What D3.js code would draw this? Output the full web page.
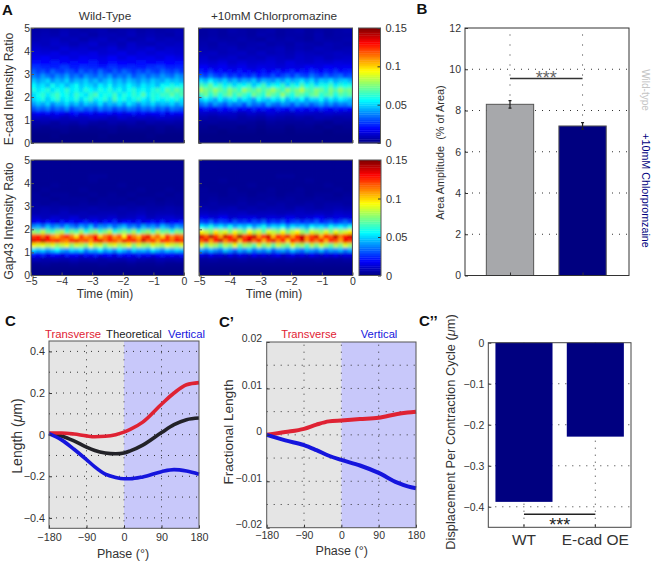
<!DOCTYPE html>
<html><head><meta charset="utf-8">
<script src="https://cdn.jsdelivr.net/npm/d3@7/dist/d3.min.js"></script>
<style>html,body{margin:0;padding:0;background:#fff}svg{display:block}text{font-family:"Liberation Sans",Arial,sans-serif;fill:#333}</style>
</head><body><svg id="c" width="652" height="563"></svg>
<script>
// Heat maps: rows run from ratio 5 (top) to 0 (bottom), values in thousandths. Each row holds its own bins across time.
const wtEcad=[
[6,7,6,8,7,6,7,8,6,7,8,6,7,6,7,8],
[7,8,7,9,7,8,6,8,8,7,9,7,8,7,6,8],
[8,9,10,8,9,7,9,10,8,9,7,8,10,8,9,8],
[10,9,11,10,8,10,12,9,10,8,11,9,8,10,9,10],
[12,11,10,13,11,12,10,11,13,10,12,11,13,10,12,11],
[14,13,15,12,14,13,15,12,13,15,12,14,12,14,13,12],
[16,18,15,17,14,17,16,15,18,14,17,15,16,14,17,15],
[21,19,22,18,20,19,22,17,20,19,18,21,18,20,19,20],
[26,24,23,27,22,25,24,22,26,23,24,22,25,27,23,24],
[33,28,31,26,34,29,27,32,30,25,33,28,31,27,35,29,26,32,28,34,30,26,31,28,33,29,27,34,30,28,32,27],
[38,34,41,36,32,39,35,42,33,37,31,40,36,33,39,35,41,32,37,34,40,31,36,39,33,38,35,41,37,34,42,38],
[48,42,46,51,41,47,43,50,40,46,44,49,42,47,39,45,50,43,47,41,48,44,40,46,42,49,45,43,50,46,48,44],
[56,49,53,47,58,50,54,46,52,57,48,53,50,45,55,49,57,47,52,48,56,50,46,54,49,53,47,57,55,60,54,58],
[60,53,57,62,52,59,55,63,54,58,51,61,56,52,60,55,62,53,59,50,57,62,54,58,52,60,64,58,70,64,72,66],
[51,58,63,54,61,66,56,60,53,64,58,52,62,67,55,60,57,65,53,61,56,63,58,68,54,62,59,65,63,70,62,67],
[50,55,60,49,57,63,52,58,54,61,50,59,64,53,57,62,51,66,56,60,52,58,63,55,50,61,57,54,60,56,62,53],
[41,47,43,50,39,46,44,51,42,48,40,49,45,43,52,41,47,44,50,42,53,46,40,48,44,51,43,47,45,50,42,48],
[31,36,33,38,30,35,32,39,29,34,37,31,35,30,38,33,36,29,34,31,37,35,30,36,33,38,31,35,29,37,34,32],
[15,19,17,21,16,20,18,15,19,22,16,18,20,15,19,17,21,16,19,15,18,22,17,20,16,19,18,23,15,20,17,19],
[11,10,12,9,11,10,12,11,9,12,10,11,10,12,11,10],
[6,7,5,7,6,8,6,5,7,6,7,5,7,6,7,6],
[4,3,4,4,3,4,3,4,4,3,4,4,3,4,3,4],
[2,2,2,3,2,2,2,2,3,2,2,2,2,3,2,2],
[1,1,2,1,1,1,1,2,1,1,1,1,2,1,1,1],
[1,1,1,1,1,1,1,1,1,1,1,1,1,1,1,1]];
const cpEcad=[
[5,6,5,7,6,5,6,7,5,6,7,5,6,5,6,7],
[5,6,5,6,6,5,7,6,5,6,6,5,7,5,6,6],
[6,7,6,6,7,6,5,7,6,7,6,5,7,6,6,7],
[7,6,8,7,6,7,8,6,7,6,8,7,6,8,7,6],
[8,7,8,9,7,8,7,8,9,7,8,7,9,8,7,8],
[9,10,8,9,10,8,10,8,9,8,10,9,8,9,10,9],
[11,9,10,11,9,10,9,11,10,9,11,10,11,9,10,11],
[13,12,14,11,13,11,12,13,11,14,12,11,13,12,14,13],
[18,15,17,14,16,13,15,14,13,15,14,17,15,18,16,17],
[24,20,26,19,22,18,21,17,23,18,20,16,19,22,17,20,24,18,21,25,19,23,20,26,22,19,24,21,26,20,23,24],
[33,28,36,30,26,32,25,29,23,28,24,30,22,27,25,31,24,29,33,27,35,30,28,36,31,27,34,29,32,35,28,31],
[52,46,55,48,44,50,41,47,39,45,42,49,38,46,43,40,48,42,50,44,47,53,45,51,41,49,46,52,44,48,50,45],
[68,62,71,58,65,54,62,51,60,55,63,49,58,66,52,60,56,64,50,62,55,68,57,63,52,60,58,66,54,62,57,61],
[82,74,69,78,71,66,76,70,64,79,72,68,75,67,73,80,71,65,78,69,74,83,70,67,76,72,64,75,68,78,71,74],
[66,72,62,70,60,68,74,63,71,65,59,73,67,62,76,69,64,78,66,60,72,68,63,70,74,62,67,71,60,69,65,70],
[48,55,50,44,56,47,52,58,46,54,49,43,57,51,47,55,50,59,45,53,48,56,44,52,50,57,46,54,49,55,51,47],
[35,40,33,42,37,32,41,36,39,31,43,35,38,33,44,37,34,41,39,32,42,36,40,33,38,43,35,41,34,39,37,42],
[18,23,20,17,24,19,22,26,18,21,17,25,19,23,20,16,24,21,18,26,20,22,17,23,19,25,21,18,24,20,22,19],
[11,10,12,11,9,12,10,13,11,10,12,11,10,12,11,10],
[7,6,7,8,6,7,6,8,7,6,7,6,8,7,6,7],
[4,5,4,4,5,4,3,5,4,4,4,5,4,3,5,4],
[3,2,3,3,2,3,2,3,3,2,3,3,2,3,2,3],
[2,2,1,2,2,2,1,2,2,1,2,2,2,1,2,2],
[1,1,1,1,1,1,1,1,1,1,1,1,1,1,1,1],
[1,1,1,1,1,1,1,1,1,1,1,1,1,1,1,1]];
const wtGap=[
[3,3,3,3,3,3,3,3],[3,3,3,3,3,3,3,3],[3,3,3,3,3,3,3,3],[3,3,3,4,3,3,3,3],
[3,3,3,3,3,3,4,3,3,3,3,3,3,3,3,3],
[3,3,4,3,3,3,3,3,3,4,3,3,3,3,3,3],
[3,4,3,3,3,4,3,3,3,3,3,4,3,3,4,3],
[4,3,4,4,3,3,4,3,4,3,4,3,3,4,3,4],
[4,4,3,4,4,4,3,4,4,4,3,4,4,3,4,4],
[5,4,5,4,4,5,4,5,4,4,5,4,5,4,5,4],
[6,7,6,7,6,6,7,6,6,7,6,7,6,6,7,6],
[7,8,7,9,7,8,7,8,8,7,8,9,7,8,8,7],
[11,9,12,10,13,9,11,10,12,9,10,13,9,11,12,10],
[16,20,15,22,18,14,23,17,21,15,19,24,16,20,14,22,18,25,15,19,21,16,23,14,18,22,17,24,15,20,19,23],
[40,44,36,47,38,43,35,46,39,34,44,37,48,33,41,38,45,35,42,47,36,40,33,45,38,43,36,48,41,35,44,39],
[78,72,84,70,66,76,82,64,74,68,80,62,72,78,66,74,84,62,70,76,68,80,64,72,78,66,82,70,74,62,76,72],
[122,128,116,132,110,104,118,126,112,98,122,108,116,130,102,114,124,108,118,96,128,112,104,120,134,106,116,100,124,110,120,114],
[136,130,140,128,124,132,116,112,128,134,118,122,110,130,136,116,126,120,112,134,122,128,114,138,118,126,108,130,122,116,132,124],
[96,88,92,84,90,80,86,92,78,88,84,76,94,82,88,74,86,90,80,84,92,76,88,82,78,90,84,80,92,86,82,90],
[52,46,50,42,48,55,44,40,50,46,52,38,47,44,54,42,48,40,52,45,38,50,44,47,41,53,46,40,49,44,50,47],
[22,18,24,16,21,19,15,23,18,20,14,22,17,24,16,19,21,15,23,18,20,16,24,17,21,15,19,23,18,20,16,22],
[9,7,8,7,9,7,8,6,8,7,9,7,6,8,7,8],
[3,4,3,3,4,3,3,4,3,3,4,3,3,4,3,3],
[2,2,2,2,2,2,2,2],
[1,1,1,1,1,1,1,1]];
const cpGap=[
[3,3,3,3,3,3,3,3],[3,3,3,3,3,3,3,3],[3,3,3,3,3,3,3,3],[3,3,3,3,4,3,3,3],
[3,3,4,3,3,3,3,3,3,3,3,4,3,3,3,3],
[3,3,3,3,3,4,3,3,3,3,3,3,3,4,3,3],
[4,3,3,4,3,3,3,4,3,3,4,3,3,3,4,3],
[4,4,3,4,4,3,4,4,3,4,4,3,4,4,3,4],
[4,5,4,4,5,4,4,5,4,5,4,4,5,4,4,5],
[5,6,5,5,6,5,6,5,6,5,5,6,5,6,6,5],
[7,6,7,8,6,7,6,7,7,6,8,7,6,7,8,7],
[10,9,10,9,10,8,9,9,8,9,10,9,10,9,11,10],
[16,13,17,12,14,15,12,14,13,16,12,14,17,13,15,14],
[30,26,33,24,29,27,22,31,25,28,22,30,26,33,23,28,25,31,22,27,30,24,29,26,33,23,28,31,25,29,34,28],
[56,50,60,48,54,46,58,44,52,47,55,42,50,58,45,52,48,56,43,53,47,51,44,56,49,53,46,58,50,55,48,60],
[94,86,78,96,84,90,76,92,82,74,94,80,88,72,90,84,78,92,76,86,94,80,72,88,84,78,90,76,92,82,88,96],
[136,118,142,124,108,138,128,112,144,120,132,140,110,126,138,104,130,116,134,108,128,140,112,122,136,106,130,118,140,114,128,138],
[118,134,108,130,140,112,124,136,104,128,138,116,132,106,122,136,112,128,102,130,118,138,110,126,114,132,106,128,120,108,134,124],
[90,74,86,80,70,84,76,92,72,82,78,68,88,74,84,70,86,78,72,90,76,82,68,84,74,88,78,70,84,76,90,80],
[44,38,46,40,36,48,42,34,45,39,47,35,43,38,46,33,41,44,37,48,40,35,45,42,38,47,36,43,40,46,37,44],
[16,12,18,13,15,11,17,12,16,14,11,18,13,16,12,15,18,11,14,17,13,16,12,18,14,11,16,13,17,12,15,14],
[5,6,5,5,6,5,5,6,5,6,5,5,6,5,5,6],
[3,3,3,3,3,3,3,3],
[2,2,2,2,2,2,2,2],
[1,1,1,1,1,1,1,1]];
const timeTicks=[-5,-4,-3,-2,-1,0];
const ratioTicks=[0,1,2,3,4,5];
const cbarTicks=[0,0.05,0.1,0.15];
const jetStops=[0,0.019,0.056,0.094,0.131,0.15];
const jetColors=["#000080","#0000ff","#00ffff","#ffff00","#ff0000","#800000"];

// Panel B
const ampNames=["Wild-type","+10mM Chlorpromzaine"];
const ampValues=[8.3,7.25];
const ampErrors=[0.18,0.16];
const ampColors=["#a7a8ab","#000080"];
const ampTicks=[0,2,4,6,8,10,12];

// Panel C and C'
const phaseTicks=[-180,-90,0,90,180];
const cPhase=[-180,-150,-120,-90,-70,-45,-20,0,15,45,90,120,150,180];
const cTransverse=[0.008,0.008,0.003,-0.006,-0.01,-0.008,0,0.012,0.025,0.06,0.146,0.2,0.24,0.25];
const cTheoretical=[0.005,-0.006,-0.03,-0.06,-0.076,-0.088,-0.092,-0.088,-0.078,-0.05,0.01,0.048,0.072,0.08];
const cVertical=[0.005,-0.025,-0.07,-0.12,-0.155,-0.19,-0.206,-0.212,-0.212,-0.203,-0.178,-0.168,-0.175,-0.19];
const c1Phase=[-180,-135,-90,-60,-30,0,45,90,135,160,180];
const c1Transverse=[0,0.0006,0.0013,0.0022,0.0029,0.0031,0.0034,0.0037,0.0045,0.0048,0.005];
const c1Vertical=[0,-0.0012,-0.0022,-0.0033,-0.0045,-0.0054,-0.0066,-0.0082,-0.0103,-0.0111,-0.0115];

// Panel C''
const dispNames=["WT","E-cad OE"];
const dispValues=[-0.388,-0.229];
const dispTicks=[0,-0.1,-0.2,-0.3,-0.4];

const svg=d3.select("#c");
const fmt=v=>String(v).replace("-","\u2212");
const defs=svg.append("defs");
defs.append("filter").attr("id","soft").attr("x","-5%").attr("y","-5%").attr("width","110%").attr("height","110%")
  .append("feGaussianBlur").attr("stdDeviation","1 1.4");
const jet=d3.scaleLinear().domain(jetStops).range(jetColors).clamp(true);
let clipN=0;

function label(x,y,t,o={}){
  const e=svg.append("text").attr("x",x).attr("y",y).attr("text-anchor",o.anchor||"middle")
    .attr("font-size",o.size||10.5).style("fill",o.fill||"#333").text(t);
  if(o.bold)e.attr("font-weight","bold");
  if(o.rot)e.attr("transform",`rotate(${o.rot} ${x} ${y})`);
  return e;
}
function axes(g,x,y,xt,yt,o={}){
  const xa=d3.axisBottom(x).tickValues(xt).tickSize(-3).tickPadding(o.xpad===undefined?5:o.xpad).tickFormat(fmt);
  const ya=d3.axisLeft(y).tickValues(yt).tickSize(-3).tickPadding(o.pad||4).tickFormat(fmt);
  const gx=g.append("g").attr("transform",`translate(0,${y.range()[0]})`).call(xa);
  const gy=g.append("g").attr("transform",`translate(${x.range()[0]},0)`).call(ya);
  [gx,gy].forEach(s=>{s.select(".domain").remove();s.selectAll("line").attr("stroke",o.tick||"#333");
    s.selectAll("text").attr("font-size",o.fs||10.5).attr("font-family",null).style("fill","#333");});
  if(o.yShift)gy.selectAll("text").attr("transform",`translate(0,${o.yShift})`);
  if(o.noX)gx.selectAll("text").remove();
  if(o.noY)gy.selectAll("text").remove();
  return {gx,gy};
}
function frame(g,x,y,stroke){
  g.append("rect").attr("x",x.range()[0]).attr("y",y.range()[1])
    .attr("width",x.range()[1]-x.range()[0]).attr("height",y.range()[0]-y.range()[1])
    .attr("fill","none").attr("stroke",stroke||"#444").attr("stroke-width",1);
}
function dots(g,x,y,xv,yv,vd){
  g.selectAll(null).data(yv).enter().append("line").attr("x1",x.range()[0]).attr("x2",x.range()[1])
    .attr("y1",d=>y(d)).attr("y2",d=>y(d)).attr("stroke","#333").attr("stroke-dasharray","1 6");
  g.selectAll(null).data(xv).enter().append("line").attr("y1",y.range()[0]).attr("y2",y.range()[1])
    .attr("x1",d=>x(d)).attr("x2",d=>x(d)).attr("stroke","#333").attr("stroke-dasharray",vd||"1 6");
}
function heat(grid,L,R,T,B,o={}){
  const g=svg.append("g");
  const x=d3.scaleLinear().domain([-5,0]).range([L,R]);
  const y=d3.scaleLinear().domain([0,5]).range([B,T]);
  const rows=d3.scaleBand().domain(d3.range(grid.length)).range([T,B]);
  const id="clip"+(clipN++);
  defs.append("clipPath").attr("id",id).append("rect").attr("x",L).attr("y",T).attr("width",R-L).attr("height",B-T);
  g.append("rect").attr("x",L).attr("y",T).attr("width",R-L).attr("height",B-T).attr("fill",jet(0.002));
  const c=g.append("g").attr("clip-path",`url(#${id})`).append("g").attr("filter","url(#soft)");
  grid.forEach((row,i)=>{
    const cols=d3.scaleBand().domain(d3.range(row.length)).range([L,R]);
    row.forEach((v,j)=>{
      c.append("rect").attr("x",cols(j)).attr("y",rows(i)).attr("width",cols.bandwidth()+.5).attr("height",rows.bandwidth()+.5)
        .attr("fill",jet(v/1000));
    });
  });
  axes(g,x,y,timeTicks,ratioTicks,{noX:!o.xl,noY:!o.yl,fs:10.5,pad:1,xpad:2,tick:"#555"});
  frame(g,x,y,"#555");
}
function cbar(L,R,T,B){
  const g=svg.append("g");
  const y=d3.scaleLinear().domain([0,0.15]).range([B,T]);
  const levels=d3.range(0,64);
  const bh=(B-T)/64;
  levels.forEach(i=>g.append("rect").attr("x",L).attr("y",B-(i+1)*bh).attr("width",R-L).attr("height",bh+.4).attr("fill",jet((i+.5)/64*0.15)));
  const a=d3.axisRight(y).tickValues(cbarTicks).tickSize(-3).tickPadding(5).tickFormat(d=>d);
  const s=g.append("g").attr("transform",`translate(${R},0)`).call(a);
  s.select(".domain").remove();s.selectAll("line").attr("stroke","#333");
  s.selectAll("text").attr("font-size",11).attr("font-family",null).style("fill","#333");
  g.append("rect").attr("x",L).attr("y",T).attr("width",R-L).attr("height",B-T).attr("fill","none").attr("stroke","#555");
}
// Panel A
heat(wtEcad,31,184,28,143,{yl:1});
heat(cpEcad,198.5,352.5,28,143);
heat(wtGap,31,184,160,275.5,{yl:1,xl:1});
heat(cpGap,199,352.5,160,275.5,{xl:1});
cbar(358.5,380.5,28,143);
cbar(359,381,160,275.5);
label(105,20,"Wild-Type",{size:11.8});
label(274,20,"+10mM Chlorpromazine",{size:11.8});
label(13,89,"E-cad Intensity Ratio",{rot:-90,size:12.2});
label(13,221,"Gap43 Intensity Ratio",{rot:-90,size:12.2});
label(105,298,"Time (min)",{size:11.9});
label(274,298,"Time (min)",{size:11.9});

// Panel B
{
  const g=svg.append("g");
  const x=d3.scaleLinear().domain([0.38,2.64]).range([465,629]);
  const y=d3.scaleLinear().domain([0,12]).range([275.5,28]);
  dots(g,x,y,[1,2],ampTicks.slice(1,-1),"1 9");
  g.selectAll(null).data(ampValues).enter().append("rect")
    .attr("x",(d,i)=>x(i+1-0.326)).attr("width",x(1.652)-x(1)).attr("y",d=>y(d)).attr("height",d=>y(0)-y(d))
    .attr("fill",(d,i)=>ampColors[i]).attr("stroke","#555").attr("stroke-width",1);
  ampValues.forEach((v,i)=>{
    g.append("path").attr("d",`M${x(i+1)-1.5},${y(v+ampErrors[i])}h3M${x(i+1)},${y(v+ampErrors[i])}V${y(v-ampErrors[i])}M${x(i+1)-1.5},${y(v-ampErrors[i])}h3`)
      .attr("stroke","#222").attr("stroke-width",1.2).attr("fill","none");
  });
  g.append("line").attr("x1",x(1)).attr("x2",x(2)).attr("y1",y(9.55)).attr("y2",y(9.55)).attr("stroke","#333").attr("stroke-width",1.5);
  label((x(1)+x(2))/2,y(9.55)+5,"***",{size:18,fill:"#666"});
  axes(g,x,y,[1,2],ampTicks,{noX:1});
  frame(g,x,y,"#333");
  label(444,152.5,"Area Amplitude\u00a0 (% of Area)",{rot:-90,size:10.9});
  label(642,90,ampNames[0],{rot:90,fill:"#c4c4c4",size:10});
  label(642,190.5,ampNames[1],{rot:90,fill:"#000080",size:10.7});
}

// Phase panels
function phase(L,R,T,B,dom,yt,grid,series,xs,lw,o){
  const g=svg.append("g");
  const x=d3.scaleLinear().domain([-180,180]).range([L,R]);
  const y=d3.scaleLinear().domain(dom).range([B,T]);
  g.append("rect").attr("x",L).attr("y",T).attr("width",x(0)-L).attr("height",B-T).attr("fill","#e5e5e5");
  g.append("rect").attr("x",x(0)).attr("y",T).attr("width",R-x(0)).attr("height",B-T).attr("fill","#c8c8fa");
  dots(g,x,y,[-90,0,90],grid);
  const ln=d3.line().x((d,i)=>x(xs[i])).y(d=>y(d)).curve(d3.curveMonotoneX);
  series.forEach(s=>g.append("path").attr("d",ln(s.v)).attr("fill","none").attr("stroke",s.c).attr("stroke-width",lw));
  axes(g,x,y,phaseTicks,yt,o);
  frame(g,x,y,"#555");
}
const red="#df2233",blu="#1515dd";
phase(49,199,341,528.3,[-0.45,0.45],[-0.4,-0.2,0,0.2,0.4],[-0.4,-0.3,-0.2,-0.1,0,0.1,0.2,0.3,0.4],
  [{v:cTheoretical,c:"#222228"},{v:cTransverse,c:red},{v:cVertical,c:blu}],cPhase,3.6,{fs:10.8});
label(45,338,"Transverse",{anchor:"start",fill:red,size:11.3});
label(106,338,"Theoretical",{anchor:"start",fill:"#222",size:11.3});
label(168,338,"Vertical",{anchor:"start",fill:blu,size:11.3});
label(123,558,"Phase (\u00b0)",{size:12.5});
svg.append("text").attr("transform","rotate(-90 21.5 436)").attr("x",21.5).attr("y",436).attr("text-anchor","middle").attr("font-size",14)
  .style("fill","#333").html('Length (<tspan font-style="italic">\u03bc</tspan>m)');

phase(266.7,416,342,527.7,[-0.02,0.02],[-0.02,-0.01,0,0.01,0.02],[-0.015,-0.01,-0.005,0,0.005,0.01,0.015],
  [{v:c1Transverse,c:red},{v:c1Vertical,c:blu}],c1Phase,4,{pad:4.5,xpad:4,yShift:-3.5});
label(309,338,"Transverse",{fill:red,size:11.2});
label(379,338,"Vertical",{fill:blu,size:11.2});
label(341.7,555,"Phase (\u00b0)",{size:12.5});
label(233,432,"Fractional Length",{rot:-90,size:13.6});

// Panel C''
{
  const g=svg.append("g");
  const x=d3.scaleBand().domain(dispNames).range([488.3,631]).paddingInner(0.2).paddingOuter(0.1);
  const y=d3.scaleLinear().domain([-0.45,0]).range([527.3,342.7]);
  const cx=d=>x(d)+x.bandwidth()/2;
  g.selectAll(null).data(dispTicks.slice(1)).enter().append("line").attr("x1",488.3).attr("x2",631)
    .attr("y1",d=>y(d)).attr("y2",d=>y(d)).attr("stroke","#333").attr("stroke-dasharray","1 6");
  g.selectAll(null).data(dispNames).enter().append("line").attr("x1",cx).attr("x2",cx)
    .attr("y1",342.7).attr("y2",527.3).attr("stroke","#333").attr("stroke-dasharray","1 6");
  g.selectAll(null).data(dispValues).enter().append("rect")
    .attr("x",(d,i)=>x(dispNames[i])).attr("width",x.bandwidth()).attr("y",y(0)).attr("height",d=>y(d)-y(0)).attr("fill","#000080");
  g.append("line").attr("x1",cx(dispNames[0])).attr("x2",cx(dispNames[1])).attr("y1",y(-0.418)).attr("y2",y(-0.418)).attr("stroke","#222").attr("stroke-width",1.5);
  label((cx(dispNames[0])+cx(dispNames[1]))/2,y(-0.418)+17,"***",{size:18,fill:"#222"});
  const ya=d3.axisLeft(y).tickValues(dispTicks).tickSize(-3).tickPadding(4).tickFormat(fmt);
  const s=g.append("g").attr("transform","translate(488.3,0)").call(ya);
  s.select(".domain").remove();s.selectAll("line").attr("stroke","#333");
  s.selectAll("text").attr("font-size",10.5).attr("font-family",null).style("fill","#333");
  const xa=d3.axisBottom(x).tickSize(-3).tickPadding(7);
  const sx=g.append("g").attr("transform","translate(0,527.3)").call(xa);
  sx.select(".domain").remove();sx.selectAll("line").attr("stroke","#333");
  sx.selectAll("text").attr("font-size",15.5).attr("font-family",null).style("fill","#333");
  g.append("rect").attr("x",488.3).attr("y",342.7).attr("width",142.7).attr("height",184.6).attr("fill","none").attr("stroke","#444");
  svg.append("text").attr("transform","rotate(-90 455 432)").attr("x",455).attr("y",432).attr("text-anchor","middle").attr("font-size",12.8)
    .style("fill","#333").html('Displacement Per Contraction Cycle (<tspan font-style="italic">\u03bc</tspan>m)');
}

// Panel letters
[["A",2,14.5],["B",416.5,13.5],["C",5,326],["C\u2019",219,326.5],["C\u2019\u2019",419,326]].forEach(d=>
  label(d[1],d[2],d[0],{anchor:"start",bold:1,size:15,fill:"#111"}));
</script></body></html>
